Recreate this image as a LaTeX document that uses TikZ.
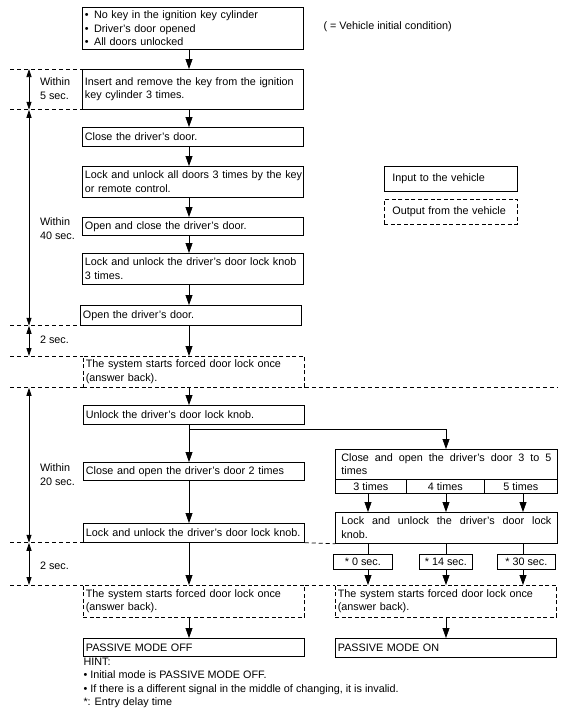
\documentclass[tikz,border=0pt]{standalone}
\usepackage{fontspec}
\setmainfont{Liberation Sans}
\usetikzlibrary{arrows.meta}

\begin{document}
\begin{tikzpicture}[x=1pt,y=-1pt,
  font=\fontsize{10.8}{13.5}\selectfont,
  every node/.style={inner ysep=0pt},
  inbox/.style={draw,line width=0.75pt,anchor=north west,inner xsep=2.5pt,text width=216pt,align=left},
  outbox/.style={inbox,dash pattern=on 4pt off 2.5pt},
  rbox/.style={draw,line width=0.75pt,anchor=north west,inner xsep=6pt,text width=210pt,align=justify},
  cell/.style={draw,line width=0.75pt,anchor=north west,inner sep=0pt,align=center},
  flow/.style={-{Triangle[length=10pt,width=7pt]},line width=0.75pt},
  span/.style={{Triangle[length=8pt,width=5pt]}-{Triangle[length=8pt,width=5pt]},line width=0.75pt},
  guide/.style={line width=0.75pt,dash pattern=on 4pt off 3pt}]
\useasboundingbox (0,0) rectangle (574,715);

\coordinate (mx) at (189,0);
\coordinate (tx) at (29,0);
\coordinate (lm) at (10,0);
\coordinate (rm) at (557,0);
\coordinate (c3) at (368,0);
\coordinate (c4) at (446,0);
\coordinate (c5) at (523,0);
\coordinate (split) at (189,429);

% main column
\node[inbox,minimum height=42pt] (init) at (82,7) {\textbullet\enspace No key in the ignition key cylinder\\\textbullet\enspace Driver’s door opened\\\textbullet\enspace All doors unlocked};
\node[inbox,minimum height=40pt] (insert) at (82,69) {\mbox{Insert and remove the key from the ignition}\\key cylinder 3 times.};
\node[inbox,minimum height=19pt] (close1) at (82,127) {Close the driver’s door.};
\node[inbox,minimum height=31pt] (lockall) at (82,166) {\mbox{Lock and unlock all doors 3 times by the key}\\or remote control.};
\node[inbox,minimum height=18pt] (openclose) at (82,217) {Open and close the driver’s door.};
\node[inbox,minimum height=31pt] (knob3) at (82,253) {\mbox{Lock and unlock the driver’s door lock knob}\\3 times.};
\node[inbox,minimum height=20pt] (open) at (80,305) {Open the driver’s door.};
\node[outbox,minimum height=31pt] (sys1) at (83,356) {The system starts forced door lock once\\(answer back).};
\node[inbox,minimum height=19pt] (unlock) at (83,405) {Unlock the driver’s door lock knob.};
\node[inbox,minimum height=18pt] (close2) at (83,462) {Close and open the driver’s door 2 times};
\node[inbox,minimum height=19pt] (lock2) at (83,523) {\mbox{Lock and unlock the driver’s door lock knob.}};
\node[outbox,minimum height=32pt] (sys2) at (83,585) {The system starts forced door lock once\\(answer back).};
\node[inbox,minimum height=18pt] (off) at (83,638) {PASSIVE MODE OFF};

% right column
\node[rbox,minimum height=30pt] (close3) at (335,449) {Close and open the driver’s door 3 to 5\linebreak times};
\node[cell,minimum width=71pt,minimum height=14pt] (t3) at (335,479) {3 times};
\node[cell,minimum width=78pt,minimum height=14pt] (t4) at (406,479) {4 times};
\node[cell,minimum width=73pt,minimum height=14pt] (t5) at (484,479) {5 times};
\node[rbox,minimum height=31pt] (lock3) at (335,512) {Lock and unlock the driver’s door lock\linebreak knob.};
\node[cell,minimum width=59pt,minimum height=15pt] (s0) at (333,554) {* 0 sec.};
\node[cell,minimum width=53pt,minimum height=15pt] (s14) at (419,554) {* 14 sec.};
\node[cell,minimum width=58pt,minimum height=15pt] (s30) at (497,554) {* 30 sec.};
\node[outbox,minimum height=32pt] (sys3) at (335,585) {The system starts forced door lock once\\(answer back).};
\node[inbox,minimum height=19pt] (on) at (335,638) {PASSIVE MODE ON};

% legend and notes
\node[anchor=west] (initnote) at (320,27) {( = Vehicle initial condition)};
\node[inbox,text width=117pt,inner xsep=8pt,minimum height=25pt] (input) at (384,166) {Input to the vehicle};
\node[outbox,text width=117pt,inner xsep=8pt,minimum height=25pt] (output) at (384,199) {Output from the vehicle};
\node[anchor=west,align=left] (w5) at (36.5,88.5) {Within\\5 sec.};
\node[anchor=west,align=left] (w40) at (36.5,228.5) {Within\\40 sec.};
\node[anchor=west,align=left] (d2a) at (36.5,340) {2 sec.};
\node[anchor=west,align=left] (w20) at (36.5,474.5) {Within\\20 sec.};
\node[anchor=west,align=left] (d2b) at (36.5,566) {2 sec.};
\node[anchor=west,align=left] (hint) at (80,683) {HINT:\\\textbullet\ Initial mode is PASSIVE MODE OFF.\\\textbullet\ If there is a different signal in the middle of changing, it is invalid.\\*: Entry delay time};

% connectors
\foreach \a/\b in {init/insert,insert/close1,close1/lockall,lockall/openclose,openclose/knob3,knob3/open,open/sys1,sys1/unlock,unlock/close2,close2/lock2,lock2/sys2,sys2/off}
  \draw[flow] (\a.south -| mx) -- (\b.north -| mx);
\draw[flow] (split) -| (close3.north -| c4);
\foreach \col/\t/\s in {c3/t3/s0,c4/t4/s14,c5/t5/s30}{
  \draw[flow] (\t.south -| \col) -- (lock3.north -| \col);
  \draw[line width=0.75pt] (lock3.south -| \col) -- (\s.north -| \col);
  \draw[flow] (\s.south -| \col) -- (sys3.north -| \col);
}
\draw[flow] (sys3.south -| c4) -- (on.north -| c4);

% time lines
\draw[guide] (lm |- insert.north) -- (insert.north west);
\draw[guide] (lm |- insert.south) -- (insert.south west);
\draw[guide] (lm |- open.south) -- (open.south west);
\draw[guide] (lm |- sys1.north) -- (sys1.north west);
\draw[guide] (lm |- sys1.south) -- (sys1.south west);
\draw[guide] (sys1.south east) -- (rm |- sys1.south);
\draw[guide] (lm |- lock2.south) -- (lock2.south west);
\draw[guide] (lock2.south east) -- (lock3.south west);
\draw[guide] (lm |- sys2.north) -- (sys2.north west);
\draw[guide] (sys2.north east) -- (sys3.north west);
\draw[span] (tx |- insert.north) -- (tx |- insert.south);
\draw[span] (tx |- insert.south) -- (tx |- open.south);
\draw[span] (tx |- open.south) -- (tx |- sys1.north);
\draw[span] (tx |- sys1.south) -- (tx |- lock2.south);
\draw[span] (tx |- lock2.south) -- (tx |- sys2.north);
\end{tikzpicture}
\end{document}
